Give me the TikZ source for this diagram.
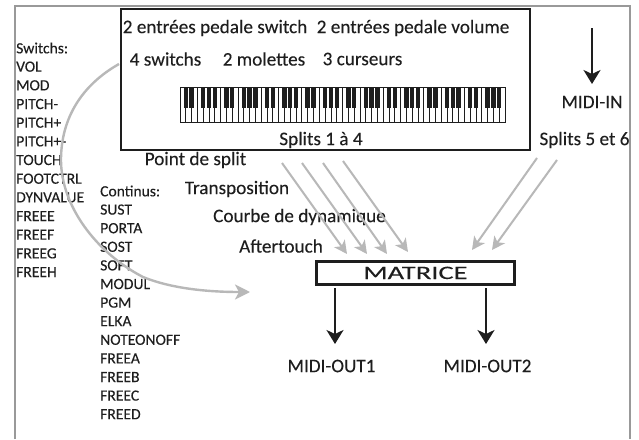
\documentclass[tikz,border=0pt]{standalone}
\usepackage{fontspec}
\usepackage{graphicx}
\setmainfont{Carlito}
\usetikzlibrary{arrows.meta}
\definecolor{ink}{HTML}{1E1E1E}
\definecolor{lightgrey}{HTML}{B8B8B8}
\tikzset{
  x=1pt,y=-1pt,
  big/.style={font=\fontsize{19.2}{20}\selectfont\addfontfeature{FakeBold=0.12},text=ink,inner sep=0pt},
  small/.style={font=\fontsize{15.6}{16}\selectfont\addfontfeature{FakeBold=0.12},text=ink,inner sep=0pt,anchor=west},
  greyarrow/.style={draw=lightgrey,line width=2pt,-{Stealth[length=13pt,width=13pt,inset=3.5pt]}},
  blackarrow/.style={draw=ink,line width=2.2pt,-{Stealth[length=14pt,width=17pt,inset=4pt]}},
}
\begin{document}
\begin{tikzpicture}
\useasboundingbox (0,0) rectangle (639,439);
\fill[white] (0,0) rectangle (639,439);
% outer frame, open at the bottom
\draw[draw=gray!80,line width=1.6pt] (15,439) -- (15,6) -- (630,6) -- (630,439);
% keyboard panel
\node[draw=ink,line width=1.5pt,minimum width=409pt,minimum height=141pt,inner sep=0pt,anchor=north west,fill=white] (panel) at (120,8) {};
\node[big] (ped1) at (215,28) {2 entrées pedale switch};
\node[big] (ped2) at (413,28) {2 entrées pedale volume};
\node[big] (sw) at (165.5,59) {4 switchs};
\node[big] (mol) at (264,59) {2 molettes};
\node[big] (cur) at (362.5,59) {3 curseurs};
% keyboard
\fill[white] (180,87) rectangle (505,122);
\foreach \i in {0,...,56}{\draw[ink,line width=.8pt] ({180+\i*5.804},87) -- ({180+\i*5.804},122);}
\draw[ink,line width=1pt] (180,87) rectangle (505,122);
\foreach \o in {0,...,7}{
  \foreach \k in {1,2,4,5,6}{
    \fill[ink] ({180+(\o*7+\k)*5.804-2.2},87) rectangle ({180+(\o*7+\k)*5.804+2.2},108);
  }
}
\node[big] (s14) at (321,140) {Splits 1 à 4};
\node[big] (s56) at (584.5,140) {Splits 5 et 6};
\node[big] (midiin) at (592,102) {MIDI-IN};
% parameters
\node[big] (p1) at (195.5,160) {Point de split};
\node[big] (p2) at (237,189) {Transposition};
\node[big] (p3) at (299.5,217) {Courbe de dynamique};
\node[big] (p4) at (281,246) {Aftertouch};
% left lists
\node[small] (a0) at (16,48) {Switchs:};
\foreach \t [count=\i] in {VOL,MOD,PITCH-,PITCH+,PITCH+-,TOUCH,FOOTCTRL,DYNVALUE,FREEE,FREEF,FREEG,FREEH}{
  \node[small] (a\i) at (16,{48+\i*18.67}) {\t};
}
\node[small] (b0) at (100,191) {Continus:};
\foreach \t [count=\i] in {SUST,PORTA,SOST,SOFT,MODUL,PGM,ELKA,NOTEONOFF,FREEA,FREEB,FREEC,FREED}{
  \node[small] (b\i) at (100,{191+\i*18.6}) {\t};
}
% matrix
\node[draw=ink,line width=2.8pt,fill=white,minimum width=198pt,minimum height=23pt,inner sep=0pt,anchor=north west,font=\fontsize{19}{20}\selectfont\addfontfeature{FakeBold=0.12},text=ink] (mat) at (315,260) {\scalebox{1.5}[1]{MATRICE}};
\node[big] (o1) at (331.5,366) {MIDI-OUT1};
\node[big] (o2) at (487.5,366) {MIDI-OUT2};
% grey arrows
\coordinate (g1a) at (282,163); \coordinate (g1b) at (347,254);
\coordinate (g2a) at (302,163); \coordinate (g2b) at (367,254);
\coordinate (g3a) at (323,163); \coordinate (g3b) at (387,254);
\coordinate (g4a) at (343,161); \coordinate (g4b) at (408,252);
\coordinate (g5a) at (537,158); \coordinate (g5b) at (472,250);
\coordinate (g6a) at (557,160); \coordinate (g6b) at (492,250);
\foreach \n in {1,...,6}{\draw[greyarrow] (g\n a) -- (g\n b);}
% curved arrow
\coordinate (ca) at (119,64);
\coordinate (cb) at (250,292);
\draw[greyarrow,line width=2.4pt,-{Stealth[length=15pt,width=15pt,inset=4pt]}] (ca) .. controls (82,85) and (61,118) .. (61,160)
  .. controls (61,205) and (95,252) .. (143,277)
  .. controls (170,288) and (205,292) .. (cb);
% black arrows
\coordinate (i1) at (592,28); \coordinate (i2) at (592,84);
\coordinate (u1) at (335,288); \coordinate (u2) at (335,344);
\coordinate (v1) at (486,288); \coordinate (v2) at (486,344);
\draw[blackarrow] (i1) -- (i2);
\draw[blackarrow] (u1) -- (u2);
\draw[blackarrow] (v1) -- (v2);
\end{tikzpicture}
\end{document}
